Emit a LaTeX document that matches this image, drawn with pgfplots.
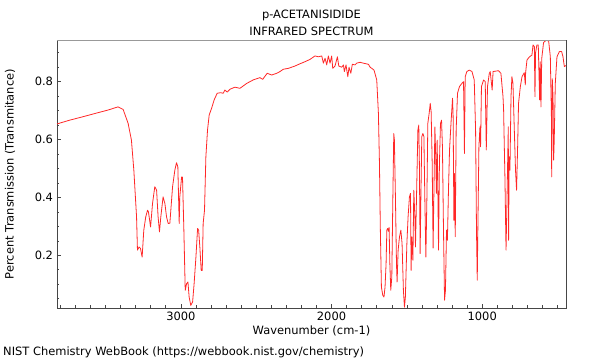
\documentclass[border=0pt]{standalone}
\usepackage{fontspec}
\setmainfont{DejaVu Sans}
\usepackage{pgfplots}
\pgfplotsset{compat=1.18}
\definecolor{spec}{RGB}{255,40,40}
\definecolor{frame}{RGB}{70,70,70}
\begin{document}
\fontsize{11.5}{13.5}\selectfont
\begin{tikzpicture}
\useasboundingbox (0,0) rectangle (600bp,360bp);
\begin{axis}[
 at={(57bp,52bp)}, anchor=south west,
 scale only axis, width=509bp, height=268bp,
 x dir=reverse, xmin=444, xmax=3822, ymin=0.018, ymax=0.944,
 xtick={1000,2000,3000}, minor xtick={500,600,...,3800},
 ytick={0.2,0.4,0.6,0.8},
 minor ytick={0.05,0.1,0.15,0.25,0.3,0.35,0.45,0.5,0.55,0.65,0.7,0.75,0.85,0.9},
 tick pos=left, tick align=inside,
 major tick length=4bp, minor tick length=2.5bp,
 every tick/.style={frame, line width=0.6bp},
 axis line style={frame, line width=0.8bp},
 /pgf/number format/assume math mode=true,
 xticklabel style={/pgf/number format/1000 sep={}},
 yticklabel style={/pgf/number format/fixed, /pgf/number format/precision=1},
 title={p-ACETANISIDIDE\\INFRARED SPECTRUM},
 title style={align=center, at={(axis description cs:0.5,1.043)}, anchor=center, font=\fontsize{11.5}{17}\selectfont},
 xlabel={Wavenumber (cm-1)},
 xlabel style={at={(axis description cs:0.5,-0.0858)}, anchor=center},
 ylabel={Percent Transmission (Transmitance)},
 ylabel style={at={(axis description cs:-0.0923,0.5)}, anchor=center},
]
\addplot[spec, line width=0.8bp, line join=round] coordinates {
(3822,0.654) (3738,0.667) (3649,0.679) (3549,0.693) (3483,0.702) (3417,0.713)
(3383,0.704) (3350,0.656) (3328,0.598) (3312,0.494) (3294,0.333) (3288,0.218)
(3277,0.229) (3268,0.224) (3257,0.194) (3246,0.287) (3233,0.333) (3221,0.356)
(3215,0.350) (3201,0.298) (3188,0.379) (3173,0.437) (3161,0.425) (3151,0.333)
(3142,0.281) (3133,0.333) (3118,0.402) (3106,0.379) (3095,0.333) (3084,0.310)
(3073,0.311) (3055,0.437) (3040,0.494) (3029,0.520) (3020,0.506) (3011,0.310)
(3007,0.402) (2995,0.471) (2989,0.470) (2980,0.287) (2971,0.079) (2962,0.102)
(2953,0.108) (2945,0.056) (2934,0.027) (2922,0.039) (2912,0.102) (2900,0.194)
(2889,0.293) (2882,0.287) (2874,0.229) (2865,0.148) (2858,0.148) (2852,0.310)
(2843,0.356) (2834,0.540) (2823,0.633) (2812,0.685) (2796,0.708) (2779,0.737)
(2759,0.760) (2736,0.762) (2719,0.760) (2708,0.771) (2692,0.764) (2674,0.774)
(2641,0.781) (2608,0.777) (2563,0.794) (2520,0.806) (2475,0.814) (2457,0.808)
(2427,0.829) (2397,0.823) (2364,0.829) (2342,0.835) (2320,0.843) (2287,0.846)
(2243,0.854) (2209,0.862) (2176,0.869) (2143,0.877) (2110,0.889) (2088,0.886)
(2065,0.889) (2054,0.864) (2043,0.881) (2032,0.858) (2021,0.889) (2010,0.864)
(1999,0.889) (1992,0.846) (1977,0.854) (1961,0.886) (1952,0.854) (1932,0.850)
(1921,0.858) (1915,0.835) (1904,0.858) (1892,0.817) (1884,0.850) (1872,0.829)
(1862,0.860) (1844,0.858) (1833,0.864) (1811,0.867) (1789,0.864) (1755,0.860)
(1744,0.850) (1733,0.846) (1718,0.840) (1700,0.806) (1689,0.691) (1682,0.518)
(1676,0.287) (1669,0.090) (1660,0.062) (1652,0.056) (1645,0.090) (1638,0.172)
(1633,0.287) (1627,0.293) (1623,0.283) (1618,0.296) (1613,0.172) (1607,0.079)
(1600,0.125) (1593,0.402) (1587,0.621) (1583,0.600) (1576,0.402) (1569,0.172)
(1565,0.108) (1558,0.218) (1549,0.264) (1540,0.287) (1532,0.241) (1523,0.079)
(1516,0.021) (1510,0.056) (1500,0.241) (1492,0.333) (1483,0.402) (1476,0.414)
(1472,0.148) (1467,0.264) (1460,0.183) (1454,0.425) (1447,0.333) (1443,0.229)
(1436,0.402) (1427,0.633) (1421,0.650) (1417,0.517) (1412,0.206) (1407,0.402)
(1401,0.610) (1394,0.621) (1387,0.610) (1381,0.402) (1374,0.194) (1367,0.402)
(1361,0.656) (1352,0.691) (1345,0.725) (1339,0.696) (1332,0.518) (1326,0.225)
(1321,0.402) (1314,0.644) (1308,0.529) (1304,0.414) (1299,0.598) (1294,0.402)
(1290,0.218) (1284,0.518) (1277,0.656) (1270,0.667) (1264,0.575) (1257,0.287)
(1250,0.045) (1244,0.079) (1237,0.287) (1231,0.252) (1224,0.425) (1217,0.564)
(1206,0.667) (1197,0.743) (1193,0.679) (1188,0.321) (1184,0.483) (1179,0.264)
(1173,0.633) (1164,0.760) (1151,0.783) (1135,0.794) (1124,0.800) (1118,0.552)
(1113,0.817) (1102,0.835) (1086,0.840) (1068,0.835) (1053,0.806) (1044,0.633)
(1038,0.287) (1033,0.114) (1029,0.287) (1022,0.575) (1015,0.644) (1011,0.575)
(1005,0.783) (991,0.806) (980,0.800) (973,0.564) (965,0.783) (953,0.829)
(947,0.835) (934,0.771) (928,0.835) (892,0.838) (876,0.829) (862,0.748)
(858,0.702) (856,0.644) (849,0.460) (842,0.218) (836,0.379) (832,0.500)
(827,0.644) (825,0.252) (821,0.540) (816,0.494) (809,0.748) (803,0.817)
(796,0.794) (787,0.633) (779,0.494) (772,0.425) (765,0.575) (759,0.725)
(747,0.783) (736,0.817) (721,0.831) (714,0.789) (712,0.831) (703,0.875)
(686,0.886) (670,0.892) (663,0.927) (654,0.921) (650,0.748) (646,0.900)
(637,0.927) (628,0.927) (619,0.737) (615,0.869) (610,0.713) (605,0.880)
(593,0.935) (575,0.944) (559,0.940) (548,0.886) (541,0.690) (539,0.471)
(535,0.810) (530,0.748) (526,0.529) (522,0.600) (515,0.794) (504,0.886)
(488,0.904) (473,0.904) (464,0.886) (455,0.852) (444,0.856)
};
\draw[black!40, line width=0.9bp] (rel axis cs:0,1) -- (rel axis cs:1,1);
\end{axis}
\node[anchor=west, inner sep=0pt] at (3bp,8bp) {NIST Chemistry WebBook (https://webbook.nist.gov/chemistry)};
\end{tikzpicture}
\end{document}
